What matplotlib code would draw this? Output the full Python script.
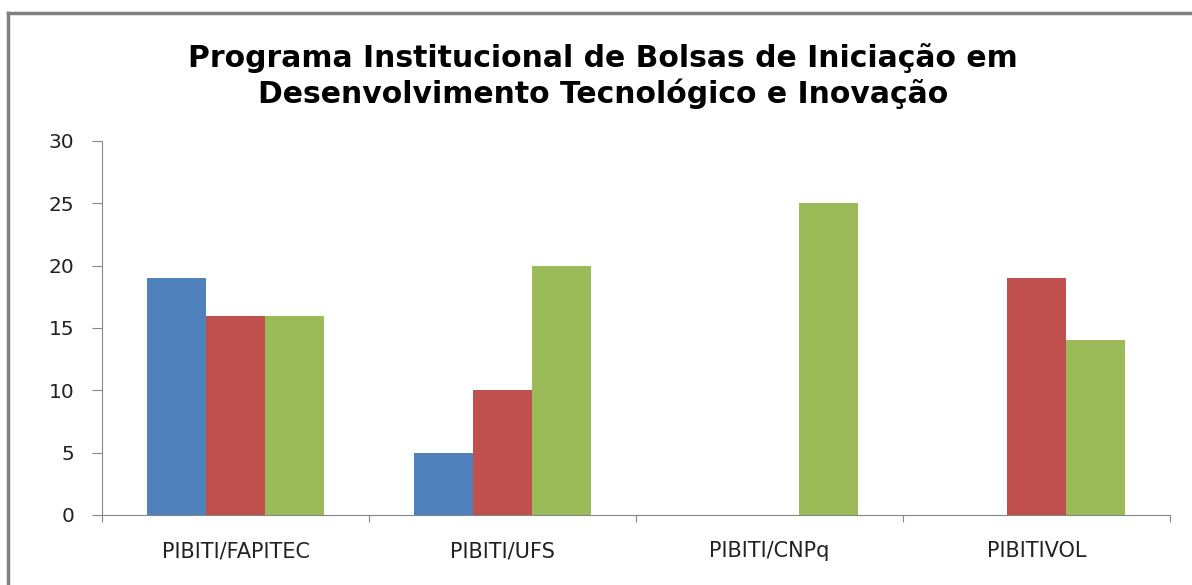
import matplotlib.pyplot as plt
import numpy as np
from matplotlib.lines import Line2D

# Dados
programas = ["PIBITI/FAPITEC", "PIBITI/UFS", "PIBITI/CNPq", "PIBITIVOL"]
serie_azul = [19, 5, 0, 0]
serie_vermelha = [16, 10, 0, 19]
serie_verde = [16, 20, 25, 14]

cores = ["#4F81BD", "#C0504D", "#9BBB59"]
titulo = "Programa Institucional de Bolsas de Iniciação em\nDesenvolvimento Tecnológico e Inovação"

plt.rcParams['font.family'] = ['DejaVu Sans']

fig = plt.figure(figsize=(11.92, 5.85), dpi=100)
ax = fig.add_axes([0.0856, 0.1197, 0.8959, 0.6393])

x = np.arange(len(programas))
largura = 0.22
for i, (vals, cor) in enumerate(zip([serie_azul, serie_vermelha, serie_verde], cores)):
    ax.bar(x + (i - 1) * largura, vals, largura, color=cor, linewidth=0)

ax.set_xlim(-0.5, len(programas) - 0.5)
ax.set_ylim(0, 30)
ax.set_yticks(range(0, 31, 5))
ax.tick_params(axis='y', labelsize=14.5, color="#868686", length=7, pad=13,
               labelcolor="#222222")

ax.set_xticks(np.arange(-0.5, len(programas), 1))
ax.set_xticklabels([])
ax.set_xticks(x, minor=True)
ax.set_xticklabels(programas, minor=True)
ax.tick_params(axis='x', which='major', color="#868686", length=5)
ax.tick_params(axis='x', which='minor', length=0, labelsize=15, pad=19,
               labelcolor="#222222")

for lado in ["top", "right"]:
    ax.spines[lado].set_visible(False)
for lado in ["left", "bottom"]:
    ax.spines[lado].set_color("#868686")

fig.text(0.506, 0.87, titulo, ha="center", va="center", fontsize=21.5,
         fontweight="bold", linespacing=1.25)

# borda do grafico
fig.add_artist(Line2D([0.007, 0.007], [0, 0.978], color="#808080", lw=2.5))
fig.add_artist(Line2D([0.007, 1], [0.978, 0.978], color="#808080", lw=2.5))

fig.savefig("out.png", dpi=100)
